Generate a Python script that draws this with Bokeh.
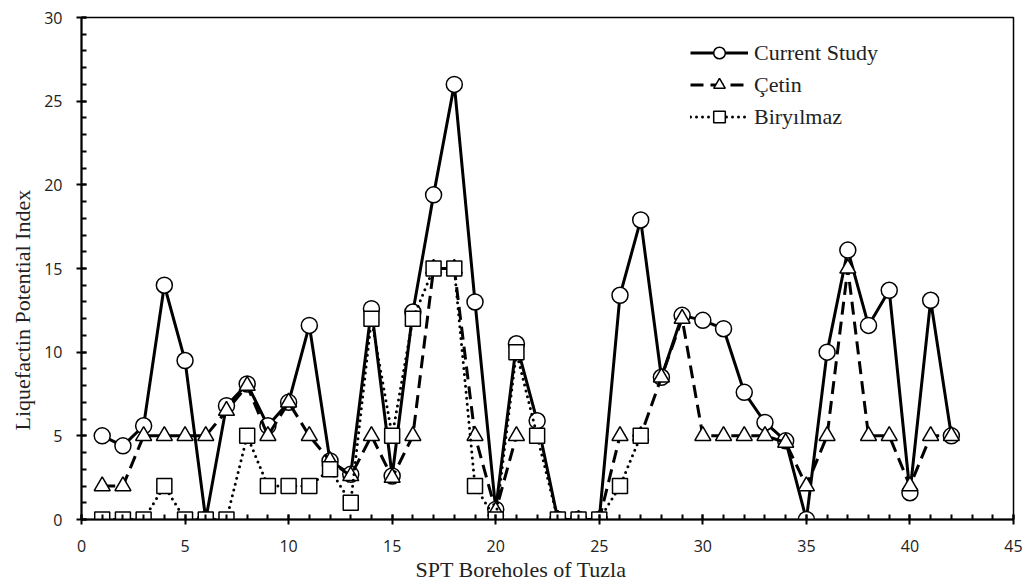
from bokeh.plotting import figure
from bokeh.models import SingleIntervalTicker, Legend, LegendItem, Range1d, Title
from bokeh.embed import file_html
from bokeh.resources import INLINE

nan = float("nan")

boreholes = list(range(1, 43))
current_study = [5.0, 4.4, 5.6, 14.0, 9.5, 0.0, 6.8, 8.1, 5.6, 7.0,
                 11.6, 3.5, 2.7, 12.6, 2.6, 12.4, 19.4, 26.0, 13.0, 0.6,
                 10.5, 5.9, 0.0, 0.0, 0.0, 13.4, 17.9, 8.5, 12.2, 11.9,
                 11.4, 7.6, 5.8, 4.7, 0.0, 10.0, 16.1, 11.6, 13.7, 1.6,
                 13.1, 5.0]
cetin = [2.0, 2.0, 5.0, 5.0, 5.0, 5.0, 6.5, 8.0, 5.0, 7.0,
         5.0, 3.5, 2.6, 5.0, 2.5, 5.0, 15.0, 15.0, 5.0, 0.5,
         5.0, nan, 0.0, 0.0, 0.0, 5.0, 5.0, 8.5, 12.0, 5.0,
         5.0, 5.0, 5.0, 4.6, 2.0, 5.0, 15.0, 5.0, 5.0, 2.0,
         5.0, 5.0]
biryilmaz_x = list(range(1, 28))
biryilmaz = [0, 0, 0, 2, 0, 0, 0, 5, 2, 2,
             2, 3, 1, 12, 5, 12, 15, 15, 2, 0,
             10, 5, 0, 0, 0, 2, 5]

x_title = "SPT Boreholes of Tuzla"
y_title = "Liquefactin Potential Index"

p = figure(width=1036, height=584, output_backend="svg", toolbar_location=None,
           x_range=Range1d(0, 45), y_range=Range1d(0, 30),
           min_border_left=81, min_border_right=23, min_border_top=17, min_border_bottom=65)

p.xgrid.visible = False
p.ygrid.visible = False
p.outline_line_color = "black"
p.outline_line_width = 1.5
p.outline_line_alpha = 1

for ax in (p.xaxis[0], p.yaxis[0]):
    ax.ticker = SingleIntervalTicker(interval=5, num_minor_ticks=5)
    ax.axis_line_width = 2
    ax.axis_line_color = "black"
    ax.major_tick_line_width = 2
    ax.minor_tick_line_width = 2
    ax.major_tick_in = 5
    ax.major_tick_out = 5
    ax.minor_tick_in = 5
    ax.minor_tick_out = 0
    ax.major_label_text_font = "Open Sans"
    ax.major_label_text_font_size = "16px"
    ax.major_label_text_color = "#222222"

p.xaxis.major_label_standoff = 15
p.yaxis.major_label_standoff = 14

l1 = p.line(boreholes, current_study, line_color="black", line_width=3)
m1 = p.scatter(boreholes, current_study, marker="circle", size=16,
               fill_color="white", line_color="black", line_width=1.5)
l2 = p.line(boreholes, cetin, line_color="black", line_width=3, line_dash="13 7")
m2 = p.scatter(boreholes, cetin, marker="triangle", size=16,
               fill_color="white", line_color="black", line_width=1.5)
l3 = p.line(biryilmaz_x, biryilmaz, line_color="black", line_width=3,
            line_dash="0 6", line_cap="round")
m3 = p.scatter(biryilmaz_x, biryilmaz, marker="square", size=15,
               fill_color="white", line_color="black", line_width=1.5)

xt = Title(text=x_title, align="left", offset=334, standoff=0,
           text_font="Liberation Serif", text_font_size="22px",
           text_font_style="normal", text_color="#222222")
yt = Title(text=y_title, align="left", offset=89, standoff=13,
           text_font="Liberation Serif", text_font_size="22px",
           text_font_style="normal", text_color="#222222")
p.add_layout(xt, "below")
p.add_layout(yt, "left")

legend = Legend(items=[
    LegendItem(label="Current Study", renderers=[l1, m1]),
    LegendItem(label="Çetin", renderers=[l2, m2]),
    LegendItem(label="Biryılmaz", renderers=[l3, m3]),
], location=(609, 388))
legend.border_line_color = None
legend.background_fill_alpha = 0
legend.glyph_width = 58
legend.glyph_height = 29
legend.spacing = 3
legend.label_text_font = "Liberation Serif"
legend.label_text_font_size = "22px"
legend.label_text_color = "#222222"
legend.label_standoff = 6
p.add_layout(legend, "center")

open("out.html", "w").write(file_html(p, INLINE))
